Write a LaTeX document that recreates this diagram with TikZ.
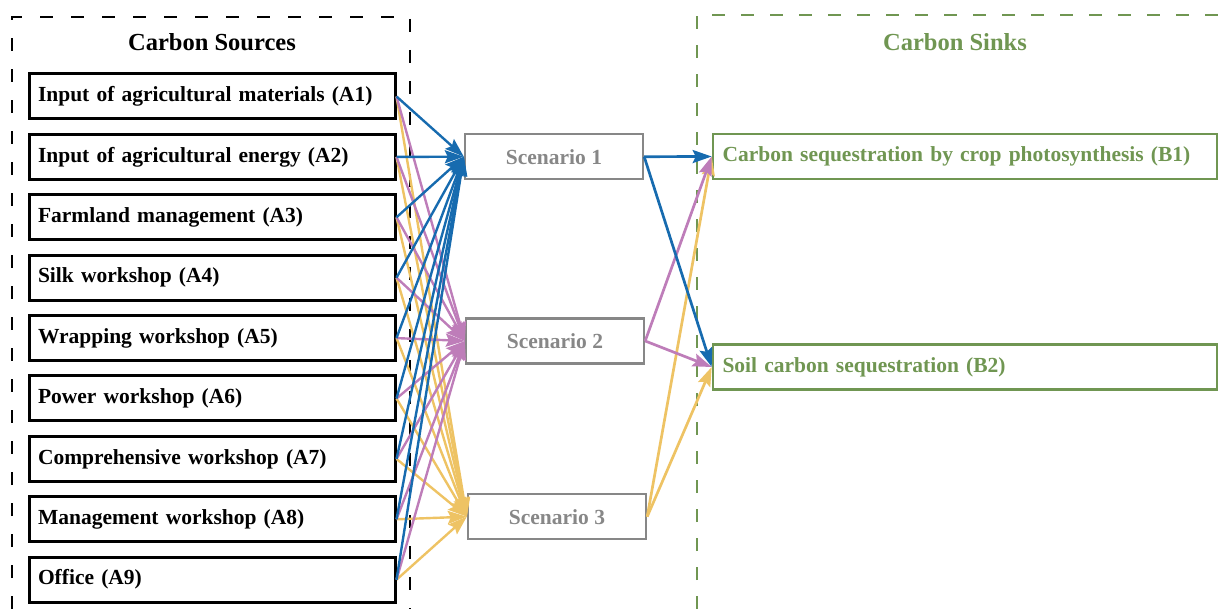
\documentclass[tikz,border=0pt]{standalone}
\usepackage{fontspec}
\setmainfont{Liberation Serif}
\usetikzlibrary{arrows.meta}

\definecolor{scblue}{RGB}{23,107,175}
\definecolor{scpurple}{RGB}{190,125,185}
\definecolor{scyellow}{RGB}{238,195,100}
\definecolor{sinkgreen}{RGB}{112,150,82}
\definecolor{scgray}{RGB}{135,135,135}

\begin{document}
\begin{tikzpicture}[x=1pt,y=-1pt,
  srcbox/.style={draw,line width=3pt,minimum width=366pt,minimum height=45pt,
    text width=348pt,inner xsep=9pt,align=left,font=\fontsize{21.5}{24}\selectfont\bfseries},
  scenbox/.style={draw=scgray,line width=2.4pt,minimum width=178pt,minimum height=45pt,
    text=scgray,font=\fontsize{21.5}{24}\selectfont\bfseries},
  sinkbox/.style={draw=sinkgreen,line width=2.6pt,minimum width=504pt,minimum height=45pt,
    text width=485pt,inner xsep=9.5pt,align=left,text=sinkgreen,
    font=\fontsize{21.5}{24}\selectfont\bfseries},
  grouptitle/.style={font=\fontsize{24.5}{28}\selectfont\bfseries},
  toscen/.style={line width=2.4pt,-{Stealth[length=19pt,width=13pt,inset=3pt]}},
  tosink/.style={line width=2.7pt,-{Stealth[length=19pt,width=13pt,inset=3pt]}}]
\useasboundingbox (0,0) rectangle (1224,609);

% the two groups
\draw[line width=2.6pt,dash pattern=on 13pt off 18pt] (12,609) |- (410,17) -- (410,609);
\draw[sinkgreen,line width=2.6pt,dash pattern=on 13pt off 16pt] (697,609) |- (1224,15);
\node[grouptitle] (srctitle) at (212,42) {Carbon Sources};
\node[grouptitle,text=sinkgreen] (sinktitle) at (955,42) {Carbon Sinks};

% sources
\node[srcbox] (a1) at (212,96.5) {Input of agricultural materials (A1)};
\node[srcbox] (a2) at (212,156.9) {Input of agricultural energy (A2)};
\node[srcbox] (a3) at (212,217.3) {Farmland management (A3)};
\node[srcbox] (a4) at (212,277.7) {Silk workshop (A4)};
\node[srcbox] (a5) at (212,338.1) {Wrapping workshop (A5)};
\node[srcbox] (a6) at (212,398.5) {Power workshop (A6)};
\node[srcbox] (a7) at (212,458.9) {Comprehensive workshop (A7)};
\node[srcbox] (a8) at (212,519.3) {Management workshop (A8)};
\node[srcbox] (a9) at (212,579.7) {Office (A9)};

% scenarios
\node[scenbox] (s1) at (554,156.7) {Scenario 1};
\node[scenbox] (s2) at (555,341) {Scenario 2};
\node[scenbox] (s3) at (557,516.7) {Scenario 3};

% sinks
\node[sinkbox] (b1) at (965,156.5) {Carbon sequestration by crop photosynthesis (B1)};
\node[sinkbox] (b2) at (965,367) {Soil carbon sequestration (B2)};

% sources to scenario 3
\draw[toscen,scyellow] (a1.east) -- (s3.west);
\draw[toscen,scyellow] (a2.east) -- (s3.west);
\draw[toscen,scyellow] (a3.east) -- (s3.west);
\draw[toscen,scyellow] (a4.east) -- (s3.west);
\draw[toscen,scyellow] (a5.east) -- (s3.west);
\draw[toscen,scyellow] (a6.east) -- (s3.west);
\draw[toscen,scyellow] (a7.east) -- (s3.west);
\draw[toscen,scyellow] (a8.east) -- (s3.west);
\draw[toscen,scyellow] (a9.east) -- (s3.west);

% sources to scenario 2
\draw[toscen,scpurple] (a1.east) -- (s2.west);
\draw[toscen,scpurple] (a2.east) -- (s2.west);
\draw[toscen,scpurple] (a3.east) -- (s2.west);
\draw[toscen,scpurple] (a4.east) -- (s2.west);
\draw[toscen,scpurple] (a5.east) -- (s2.west);
\draw[toscen,scpurple] (a6.east) -- (s2.west);
\draw[toscen,scpurple] (a7.east) -- (s2.west);
\draw[toscen,scpurple] (a8.east) -- (s2.west);
\draw[toscen,scpurple] (a9.east) -- (s2.west);

% sources to scenario 1
\draw[toscen,scblue] (a1.east) -- (s1.west);
\draw[toscen,scblue] (a2.east) -- (s1.west);
\draw[toscen,scblue] (a3.east) -- (s1.west);
\draw[toscen,scblue] (a4.east) -- (s1.west);
\draw[toscen,scblue] (a5.east) -- (s1.west);
\draw[toscen,scblue] (a6.east) -- (s1.west);
\draw[toscen,scblue] (a7.east) -- (s1.west);
\draw[toscen,scblue] (a8.east) -- (s1.west);
\draw[toscen,scblue] (a9.east) -- (s1.west);

% scenarios to sinks
\draw[tosink,scyellow] (s3.east) -- (b1.west);
\draw[tosink,scyellow] (s3.east) -- (b2.west);
\draw[tosink,scpurple] (s2.east) -- (b1.west);
\draw[tosink,scpurple] (s2.east) -- (b2.west);
\draw[tosink,scblue] (s1.east) -- (b1.west);
\draw[tosink,scblue] (s1.east) -- (b2.west);
\end{tikzpicture}
\end{document}
